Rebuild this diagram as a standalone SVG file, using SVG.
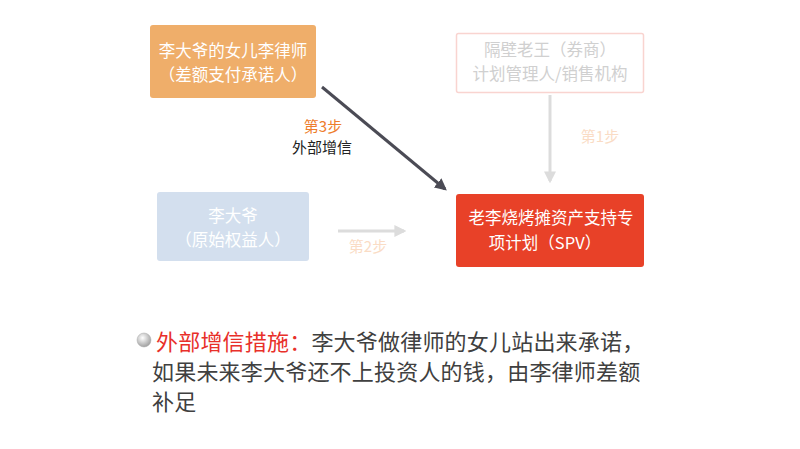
<svg xmlns="http://www.w3.org/2000/svg" width="800" height="449" viewBox="0 0 800 449">
<style>
text{font-family:"Noto Sans CJK SC","Noto Sans",sans-serif;}
.n{font-size:16.5px;text-anchor:middle;fill:#fff;}
.lbl{font-size:15px;text-anchor:middle;}
.body{font-size:22px;fill:#404040;letter-spacing:0.2px;}
</style>
<defs>
<marker id="ad" viewBox="0 0 10 10" refX="8" refY="5" markerWidth="4" markerHeight="4" orient="auto"><path d="M0,0L10,5L0,10z" fill="#4B4B55"/></marker>
<marker id="al" viewBox="0 0 10 10" refX="8" refY="5" markerWidth="4" markerHeight="4" orient="auto"><path d="M0,0L10,5L0,10z" fill="#DCDCDC"/></marker>
<radialGradient id="bg" cx="0.4" cy="0.35" r="0.7"><stop offset="0" stop-color="#ffffff"/><stop offset="1" stop-color="#9a9a9a"/></radialGradient>
</defs>
<rect width="800" height="449" fill="#fff"/>
<g id="connectors">
<line x1="322" y1="87" x2="445" y2="189" stroke="#4B4B55" stroke-width="3" marker-end="url(#ad)"/>
<line x1="550" y1="95" x2="550" y2="181" stroke="#DCDCDC" stroke-width="3" marker-end="url(#al)"/>
<line x1="338" y1="231" x2="404" y2="231" stroke="#DCDCDC" stroke-width="3" marker-end="url(#al)"/>
<text class="lbl" x="323" y="132" fill="#EE7D2C">第3步</text>
<text class="lbl" x="322" y="153" fill="#222">外部增信</text>
<text class="lbl" x="600" y="142" fill="#FADCC5">第1步</text>
<text class="lbl" x="368" y="252" fill="#FADCC5">第2步</text>
</g>
<g id="daughter">
<rect x="150" y="25" width="166" height="73" rx="3" fill="#EFAE6A"/>
<text class="n" x="233" y="57">李大爷的女儿李律师</text>
<text class="n" x="233" y="81">（差额支付承诺人）</text>
</g>
<g id="broker">
<rect x="456.5" y="33.5" width="187" height="59" rx="2" fill="#fff" stroke="#F9D4D0" stroke-width="1.5"/>
<text class="n" x="550" y="56" style="fill:#D0D0D0">隔壁老王（券商）</text>
<text class="n" x="550" y="80" style="fill:#D0D0D0">计划管理人/销售机构</text>
</g>
<g id="originator">
<rect x="157" y="192" width="152" height="69" rx="3" fill="#D3DFEE"/>
<text class="n" x="233" y="222">李大爷</text>
<text class="n" x="233" y="246">（原始权益人）</text>
</g>
<g id="spv">
<rect x="456" y="194" width="188" height="73" rx="3" fill="#E84128"/>
<text class="n" x="551" y="224">老李烧烤摊资产支持专</text>
<text class="n" x="545" y="249">项计划（SPV）</text>
</g>
<g id="note">
<circle cx="144" cy="340" r="7" fill="url(#bg)" stroke="#aaa" stroke-width="0.5"/>
<text class="body" x="156" y="350"><tspan fill="#E8302A">外部增信措施：</tspan>李大爷做律师的女儿站出来承诺，</text>
<text class="body" x="152" y="380">如果未来李大爷还不上投资人的钱，由李律师差额</text>
<text class="body" x="152" y="410">补足</text>
</g>
</svg>
